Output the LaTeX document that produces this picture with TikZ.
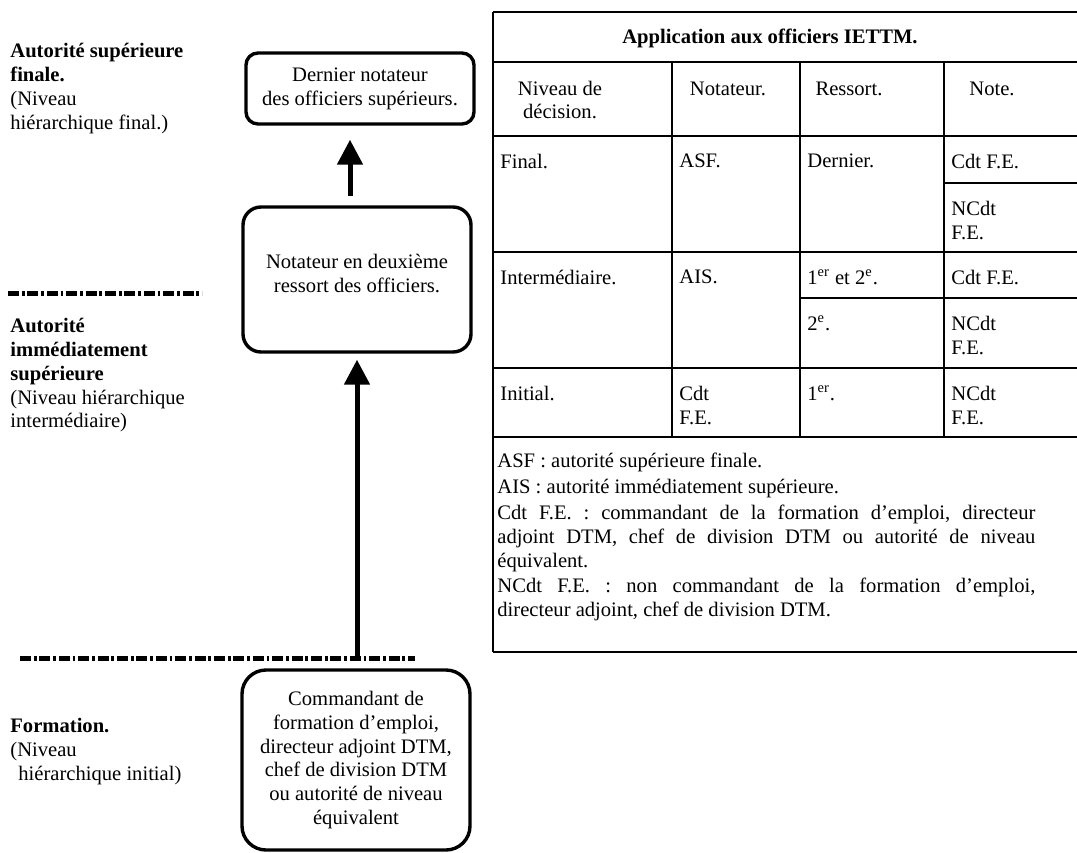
\documentclass[tikz,border=0pt]{standalone}
\usepackage{fontspec}
\setmainfont{Liberation Serif}
\usetikzlibrary{arrows.meta}

\begin{document}
\frenchspacing
\begin{tikzpicture}[
    x=0.5pt, y=-0.5pt,
    >={Triangle[width=12.5pt, length=12.5pt]},
    font=\fontsize{10.3}{11.9}\selectfont,
    % ---- shared styles ---------------------------------------------------
    rung/.style={draw, line width=1.7pt, rounded corners=6pt, align=center,
                 minimum width=114pt, inner sep=0pt},
    lvl/.style={anchor=north west, align=left, inner sep=0pt},
    climb/.style={->, line width=2.5pt},
    tier/.style={line width=2.5pt, dash pattern=on 5.5pt off 1.4pt on 1.4pt off 1.4pt},
    grid/.style={line width=1pt},
    cell/.style={anchor=north west, align=left, inner sep=0pt},
    hd/.style={align=center, inner sep=0pt},
    gloss/.style={anchor=north west, inner sep=0pt, text width=269pt,
                  align=justify},
  ]
\useasboundingbox (0,0) rectangle (1077,852);

% =========================================================================
% LEFT -- the three levels
% =========================================================================
\node[lvl] (lvlfinal) at (10,43)
  {\textbf{Autorité supérieure}\\\textbf{finale.}\\(Niveau\\hiérarchique final.)};
\draw[tier] (8,293) -- (202,293);
\node[lvl] (lvlinter) at (10,318)
  {\textbf{Autorité}\\\textbf{immédiatement}\\\textbf{supérieure}\\(Niveau hiérarchique\\intermédiaire)};
\draw[tier] (20,658) -- (415,658);
\node[lvl] (lvlform) at (10,718)
  {\textbf{Formation.}\\(Niveau\\\hspace*{4pt}hiérarchique initial)};

% =========================================================================
% CENTRE -- the chain of notateurs
% =========================================================================
\node[rung, minimum height=35.5pt] (final) at (360,88.5)
  {Dernier notateur\\des officiers supérieurs.};
\node[rung, rounded corners=9pt, minimum height=72.5pt] (second) at (357,279.5)
  {Notateur en deuxième\\ressort des officiers.\\[-9pt]\strut};
\node[rung, rounded corners=12pt, minimum height=90pt] (cdt) at (356,760)
  {Commandant de\\formation d’emploi,\\directeur adjoint DTM,\\chef de division DTM\\ou autorité de niveau\\équivalent};

% the long arrow starts on the lower level line
\coordinate (base) at (357,658);
\draw[climb, shorten >=3pt] (base) -- (second.south);
\draw[climb, shorten <=4.5pt, shorten >=7pt]
  ([xshift=-3.5pt]second.north) -- ([xshift=-5pt]final.south);

% =========================================================================
% RIGHT -- table, cut at the page edge
% =========================================================================
\foreach \y in {12,62,136,252,368,437,652}{
  \draw[grid] (493,\y) -- (1090,\y);}
\draw[grid] (493,12) -- (493,652);
\foreach \x in {672,800,944}{
  \draw[grid] (\x,62) -- (\x,437);}
\draw[grid] (944,183) -- (1090,183);
\draw[grid] (800,298) -- (1090,298);

\node (title) at (770,38) {\textbf{Application aux officiers IETTM.}};
\node[hd] (hniv)  at (560,100) {Niveau de\\décision.};
\node[hd] (hnot)  at (728,89)  {Notateur.};
\node[hd] (hres)  at (849,89)  {Ressort.};
\node[hd] (hnote) at (992,89)  {Note.};

\foreach \x/\y/\txt [count=\i] in {
    500/136/{Final.}, 500/252/{Intermédiaire.}, 500/368/{Initial.},
    679/136/{ASF.}, 679/252/{AIS.}, 679/368/{Cdt\\F.E.},
    807/136/{Dernier.}, 807/252/{1\textsuperscript{er} et 2\textsuperscript{e}.},
    807/298/{2\textsuperscript{e}.}, 807/368/{1\textsuperscript{er}.},
    951/136/{Cdt F.E.}, 951/183/{NCdt\\F.E.}, 951/252/{Cdt F.E.},
    951/298/{NCdt\\F.E.}, 951/368/{NCdt\\F.E.}}{
  \node[cell] (cell\i) at (\x,\y+17.7) {\txt};}

\node[gloss] (gloss) at (497,453) {\setlength{\parskip}{1pt}%
  ASF : autorité supérieure finale.\par
  AIS : autorité immédiatement supérieure.\par
  Cdt F.E. : commandant de la formation d’emploi, directeur\linebreak
  adjoint DTM, chef de division DTM ou autorité de niveau\linebreak
  équivalent.\par
  NCdt F.E. : non commandant de la formation d’emploi,\linebreak
  directeur adjoint, chef de division DTM.};

\end{tikzpicture}
\end{document}
